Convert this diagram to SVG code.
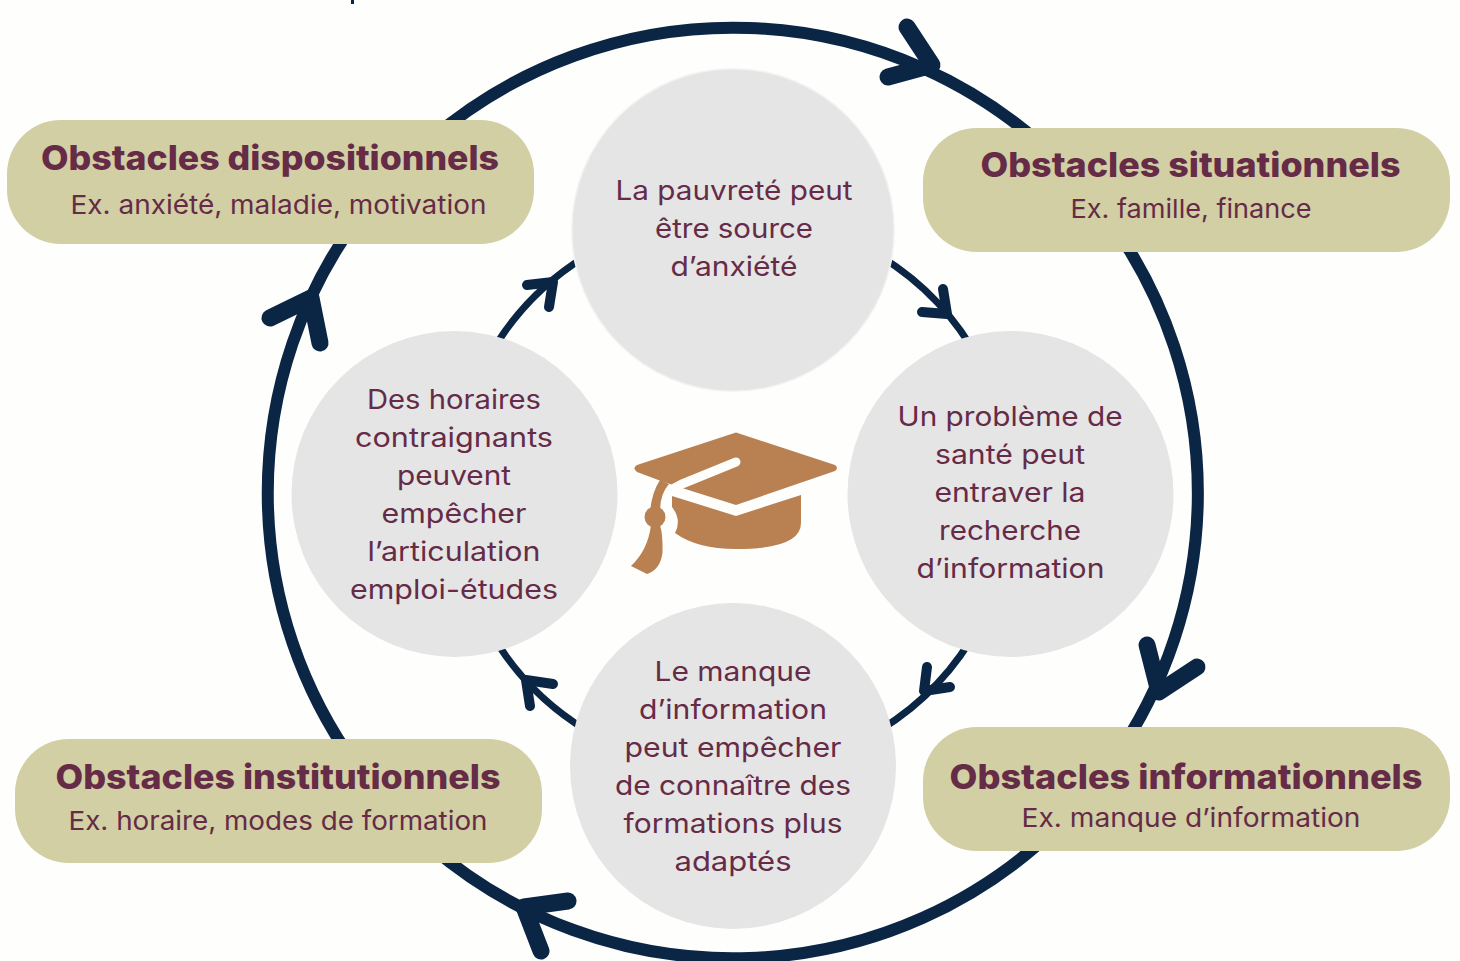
<svg xmlns="http://www.w3.org/2000/svg" width="1460" height="961" viewBox="0 0 1460 961">
<style>
text{font-family:Inter,"Noto Sans","Liberation Sans",sans-serif;fill:#652B47;text-anchor:middle}
.b{font-size:34px;font-weight:800}
.s{font-size:26px;font-weight:400}
.c{font-size:27px;font-weight:400}
.pill{fill:#D1CFA3}
.bub{fill:#E5E5E5}
.big{fill:none;stroke:#0B2545;stroke-width:12}
.bigh{fill:none;stroke:#0B2545;stroke-width:17;stroke-linecap:round;stroke-linejoin:round}
.sm{fill:none;stroke:#0B2545;stroke-width:7}
.smh{fill:none;stroke:#0B2545;stroke-width:10;stroke-linecap:round;stroke-linejoin:round}
.cap{fill:#B98052}
</style>
<rect width="1460" height="961" fill="#FEFEFD"/>
<rect x="351" y="0" width="3" height="4" fill="#0B2545"/>
<g id="connectors">
<path class="big" d="M430 140A465 465 0 0 1 1060 162"/>
<path class="bigh" d="M907 27L932 65L888 77"/>
<path class="big" d="M1110 221A465 465 0 0 1 1110 765"/>
<path class="bigh" d="M1147 645L1159 692L1197 667"/>
<path class="big" d="M1060 824A465 465 0 0 1 430 846"/>
<path class="bigh" d="M568 901L524 907L541 951"/>
<path class="big" d="M360 771A465 465 0 0 1 360 215"/>
<path class="bigh" d="M270 318L311 298L320 343"/>
<path class="sm" d="M880 256A279 279 0 0 1 980 362"/>
<path class="smh" d="M943 289L947 314L922 312"/>
<path class="sm" d="M980 624A279 279 0 0 1 880 730"/>
<path class="smh" d="M950 687L924 691L927 667" />
<path class="sm" d="M586 730A279 279 0 0 1 486 624"/>
<path class="smh" d="M553 684L526 680L530 706"/>
<path class="sm" d="M486 362A279 279 0 0 1 586 256"/>
<path class="smh" d="M527 285L553 282L549 307"/>
</g>
<g id="pill-dispositionnels">
<rect class="pill" x="7" y="120" width="527" height="124" rx="54"/>
<text class="b" x="270" y="170" textLength="458" lengthAdjust="spacingAndGlyphs">Obstacles dispositionnels</text>
<text class="s" x="278.500" y="214" textLength="416" lengthAdjust="spacingAndGlyphs">Ex. anxiété, maladie, motivation</text>
</g>
<g id="pill-situationnels">
<rect class="pill" x="923" y="128" width="527" height="124" rx="54"/>
<text class="b" x="1190.500" y="177" textLength="420" lengthAdjust="spacingAndGlyphs">Obstacles situationnels</text>
<text class="s" x="1191" y="218" textLength="241" lengthAdjust="spacingAndGlyphs">Ex. famille, finance</text>
</g>
<g id="pill-informationnels">
<rect class="pill" x="923" y="727" width="527" height="124" rx="54"/>
<text class="b" x="1186" y="789" textLength="473" lengthAdjust="spacingAndGlyphs">Obstacles informationnels</text>
<text class="s" x="1191" y="827" textLength="339" lengthAdjust="spacingAndGlyphs">Ex. manque d’information</text>
</g>
<g id="pill-institutionnels">
<rect class="pill" x="15" y="739" width="527" height="124" rx="54"/>
<text class="b" x="278" y="789" textLength="445" lengthAdjust="spacingAndGlyphs">Obstacles institutionnels</text>
<text class="s" x="278" y="830" textLength="419" lengthAdjust="spacingAndGlyphs">Ex. horaire, modes de formation</text>
</g>
<g id="circle-top">
<circle cx="733" cy="230" r="162" fill="#F3F3F3"/>
<circle class="bub" cx="733" cy="230" r="160.500"/>
<text class="c" x="734" y="200" textLength="237" lengthAdjust="spacingAndGlyphs">La pauvreté peut</text>
<text class="c" x="734" y="238" textLength="158" lengthAdjust="spacingAndGlyphs">être source</text>
<text class="c" x="734" y="276" textLength="127" lengthAdjust="spacingAndGlyphs">d’anxiété</text>
</g>
<g id="circle-right">
<circle class="bub" cx="1010.500" cy="494" r="163"/>
<text class="c" x="1010" y="426" textLength="225" lengthAdjust="spacingAndGlyphs">Un problème de</text>
<text class="c" x="1010" y="464" textLength="150" lengthAdjust="spacingAndGlyphs">santé peut</text>
<text class="c" x="1010" y="502" textLength="151" lengthAdjust="spacingAndGlyphs">entraver la</text>
<text class="c" x="1010" y="540" textLength="142" lengthAdjust="spacingAndGlyphs">recherche</text>
<text class="c" x="1010.500" y="578" textLength="188" lengthAdjust="spacingAndGlyphs">d’information</text>
</g>
<g id="circle-bottom">
<circle class="bub" cx="733" cy="766" r="163"/>
<text class="c" x="733" y="681" textLength="157" lengthAdjust="spacingAndGlyphs">Le manque</text>
<text class="c" x="733" y="719" textLength="188" lengthAdjust="spacingAndGlyphs">d’information</text>
<text class="c" x="733" y="757" textLength="217" lengthAdjust="spacingAndGlyphs">peut empêcher</text>
<text class="c" x="733" y="795" textLength="236" lengthAdjust="spacingAndGlyphs">de connaître des</text>
<text class="c" x="733" y="833" textLength="219" lengthAdjust="spacingAndGlyphs">formations plus</text>
<text class="c" x="733" y="871" textLength="117" lengthAdjust="spacingAndGlyphs">adaptés</text>
</g>
<g id="circle-left">
<circle class="bub" cx="454.500" cy="494" r="163"/>
<text class="c" x="454" y="409" textLength="174" lengthAdjust="spacingAndGlyphs">Des horaires</text>
<text class="c" x="454" y="447" textLength="198" lengthAdjust="spacingAndGlyphs">contraignants</text>
<text class="c" x="454" y="485" textLength="114" lengthAdjust="spacingAndGlyphs">peuvent</text>
<text class="c" x="454" y="523" textLength="145" lengthAdjust="spacingAndGlyphs">empêcher</text>
<text class="c" x="454" y="561" textLength="173" lengthAdjust="spacingAndGlyphs">l’articulation</text>
<text class="c" x="454" y="599" textLength="208" lengthAdjust="spacingAndGlyphs">emploi-études</text>
</g>
<g id="cap">
<path class="cap" d="M736 432.500L835 465Q839 468 835 471L736 505L682 488L661 481L637 472Q632 468 637 465Z"/>
<path d="M736 462L682 484Q668 490 664 502" fill="none" stroke="#FEFEFD" stroke-width="9" stroke-linecap="round"/>
<path class="cap" d="M660 480L669 484Q660 494 660 511L650 511Q652 492 660 480Z"/>
<path class="cap" d="M672 496L736 516L801 495L801 523Q801 549 736 549Q697 549 675 533Q682 520 672 507Z"/>
<circle class="cap" cx="655" cy="517" r="10.500"/>
<path class="cap" d="M651 525L660 525Q663 535 662.500 553Q660 570 647 574L631 566Q648 550 651 525Z"/>
</g>
</svg>
